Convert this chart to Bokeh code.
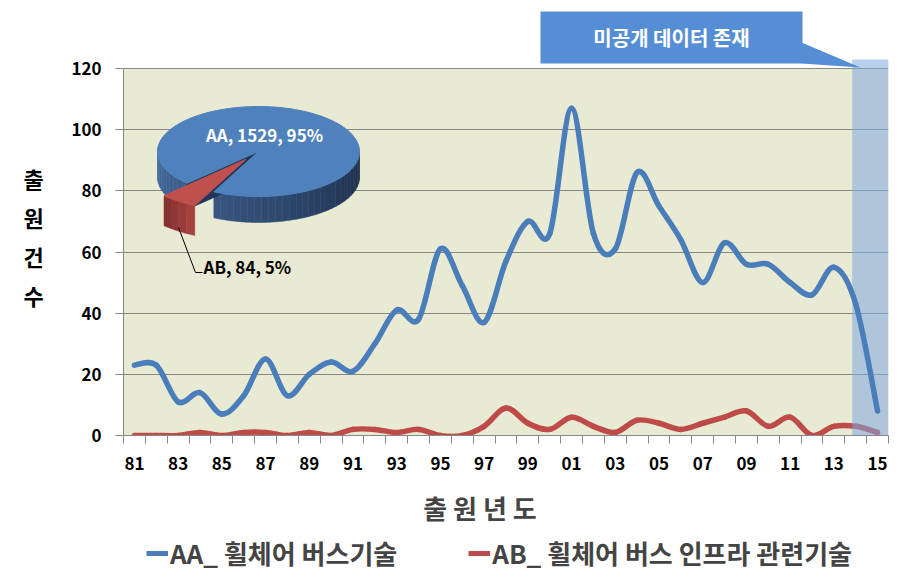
import math
from bokeh.plotting import figure
from bokeh.layouts import column, row
from bokeh.models import Range1d, FixedTicker, Legend, LegendItem
from bokeh.embed import file_html
from bokeh.resources import INLINE
from bokeh.core.properties import value

# ---------------- data ----------------
years = list(range(1981, 2016))
year_labels = [f"{y % 100:02d}" for y in years]
aa_counts = [23, 23, 11, 14, 7, 13, 25, 13, 20, 24,
             21, 30, 41, 38, 61, 49, 37, 57, 70, 66,
             107, 66, 61, 86, 75, 64, 50, 63, 56, 56,
             50, 46, 55, 43, 8]
ab_counts = [0, 0, 0, 1, 0, 1, 1, 0, 1, 0,
             2, 2, 1, 2, 0, 0, 3, 9, 4, 2,
             6, 3, 1, 5, 4, 2, 4, 6, 8, 3,
             6, 0, 3, 3, 1]
series_names = ["AA_ 휠체어 버스기술", "AB_ 휠체어 버스 인프라 관련기술"]
pie_names = ["AA", "AB"]
y_ticks = [0, 20, 40, 60, 80, 100, 120]
note_text = "미공개 데이터 존재"
x_title = "출 원 년 도"
y_title_chars = list("출원건수")

# ---------------- style / layout ----------------
FONT = "Noto Sans CJK KR"
BLUE = "#4a7ebb"
RED = "#be4b48"
GRID = "#878787"
OLIVE = "#e9ead3"
SHADE = "#80a8e0"
W, H = 919, 583
LEG_H = 53                  # legend strip height
MAIN_H = H - LEG_H
YT_W = 60                   # width of the y-title strip
FL, FR = 123, 888           # frame left/right px (page coords)
FT, FB = 5, 435             # frame top/bottom px (bottom = value 0)
X0, X1 = years[0] - 0.5, years[-1] + 0.5
SX = (FR - FL) / (X1 - X0)
Y_ZERO_PX, Y_TOP_PX = 435, 68
SY = (Y_ZERO_PX - Y_TOP_PX) / y_ticks[-1]


def X(px):
    return X0 + (px - FL) / SX


def Y(py):
    return (Y_ZERO_PX - py) / SY


def bare(fig):
    fig.outline_line_color = None
    fig.xgrid.visible = False
    fig.ygrid.visible = False
    fig.background_fill_color = "white"
    fig.border_fill_color = "white"
    fig.min_border = 0
    return fig


# ---------- y-title strip (frame is aligned with the main frame: page px FT..FB) ----------
py_ = bare(figure(width=YT_W, height=MAIN_H, output_backend="svg", toolbar_location=None,
                  x_range=Range1d(0, YT_W), y_range=Range1d(FB, FT),
                  x_axis_location=None, y_axis_location=None))
py_.text(x=[33] * len(y_title_chars), y=[177 + 39 * i for i in range(len(y_title_chars))],
         text=y_title_chars, text_color="black", text_font=value(FONT), text_font_style="bold",
         text_font_size="22px", text_align="center", text_baseline="middle")

# ---------- main plot ----------
p = figure(width=W - YT_W, height=MAIN_H, output_backend="svg", toolbar_location=None,
           x_range=Range1d(X0, X1), y_range=Range1d(0, Y(FT)),
           min_border_left=FL - YT_W, min_border_right=W - FR,
           min_border_top=FT, min_border_bottom=MAIN_H - FB)
p.outline_line_color = None
p.background_fill_color = "white"
p.border_fill_color = "white"
p.xgrid.visible = False
p.ygrid.grid_line_color = GRID
p.ygrid.grid_line_width = 1.2
p.ygrid.ticker = FixedTicker(ticks=y_ticks[1:])

bg = p.quad(left=[X0], right=[X1], bottom=[y_ticks[0]], top=[y_ticks[-1]],
            fill_color=OLIVE, line_color=None)
bg.level = "image"

ya = p.yaxis[0]
ya.ticker = FixedTicker(ticks=y_ticks)
ya.bounds = (y_ticks[0], y_ticks[-1])
ya.axis_line_color = GRID
ya.major_tick_line_color = GRID
ya.major_tick_out = 8
ya.major_tick_in = 0
ya.minor_tick_line_color = None
ya.major_label_text_font = FONT
ya.major_label_text_font_style = "bold"
ya.major_label_text_font_size = "17px"
ya.major_label_text_color = "black"
ya.major_label_standoff = 14

xa = p.xaxis[0]
xa.ticker = FixedTicker(ticks=years[::2], minor_ticks=[y - 0.5 for y in years] + [years[-1] + 0.5])
xa.major_label_overrides = {y: lab for y, lab in zip(years, year_labels)}
xa.axis_line_color = GRID
xa.major_tick_line_color = None
xa.major_tick_out = 8
xa.minor_tick_line_color = GRID
xa.minor_tick_out = 8
xa.minor_tick_in = 0
xa.major_label_text_font = FONT
xa.major_label_text_font_style = "bold"
xa.major_label_text_font_size = "17px"
xa.major_label_text_color = "black"
xa.major_label_standoff = 13
xa.axis_label = x_title + "\u3000\u3000"      # trailing ideographic spaces shift the centred title left
xa.axis_label_text_font = FONT
xa.axis_label_text_font_style = "bold"
xa.axis_label_text_font_size = "26px"
xa.axis_label_standoff = 16


def bezier_segments(xs, ys):
    """Excel-like smoothing: cubic Bezier through every data point."""
    n = len(xs)
    out = dict(x0=[], y0=[], x1=[], y1=[], cx0=[], cy0=[], cx1=[], cy1=[])
    for i in range(n - 1):
        a = max(i - 1, 0)
        b = min(i + 2, n - 1)
        out["x0"].append(xs[i]); out["y0"].append(ys[i])
        out["x1"].append(xs[i + 1]); out["y1"].append(ys[i + 1])
        out["cx0"].append(xs[i] + (xs[i + 1] - xs[a]) / 6)
        out["cy0"].append(ys[i] + (ys[i + 1] - ys[a]) / 6)
        out["cx1"].append(xs[i + 1] - (xs[b] - xs[i]) / 6)
        out["cy1"].append(ys[i + 1] - (ys[b] - ys[i]) / 6)
    return out


p.bezier(**bezier_segments(years, ab_counts), line_color=RED, line_width=5.5, line_cap="round")

SHADE_LEFT = X(851.7)
p.quad(left=[SHADE_LEFT], right=[X1], bottom=[0], top=[Y(59)],
       fill_color=SHADE, fill_alpha=0.55, line_color=None)

p.bezier(**bezier_segments(years, aa_counts), line_color=BLUE, line_width=5.5, line_cap="round")

# callout
p.quad(left=[X(540)], right=[X(802)], bottom=[Y(63)], top=[Y(11)],
       fill_color="#558ed5", line_color=None)
p.patch([X(801), X(860), X(801)], [Y(42), Y(67), Y(63)], fill_color="#558ed5", line_color=None)
p.text(x=[X(671)], y=[Y(37)], text=[note_text], text_color="white",
       text_font=value(FONT), text_font_style="bold", text_font_size="20px",
       text_align="center", text_baseline="middle")

# ---------- 3D pie ----------
totals = [sum(aa_counts), sum(ab_counts)]
grand = sum(totals)
CX, CY = X(258), Y(151)
RX, RY = 101 / SX, 45 / SY
DEPTH = 26 / SY
START = 225.0
ab_span = 360.0 * totals[1] / grand
ab_a0, ab_a1 = START, START + ab_span
aa_a0, aa_a1 = ab_a1, START + 360.0
EXP = 0.21
RED_R = 1.15          # exploded slice appears larger (perspective)
mid = math.radians((ab_a0 + ab_a1) / 2)
EXU, EXV = EXP * math.cos(mid), EXP * math.sin(mid)


def pt(ang, r=1.0, dz=0.0, du=0.0, dv=0.0):
    a = math.radians(ang)
    return (CX + RX * (du + r * math.cos(a)), CY + RY * (dv + r * math.sin(a)) - dz)


def arc(a0, a1, dz=0.0, du=0.0, dv=0.0, step=2.0, r=1.0):
    n = max(2, int(abs(a1 - a0) / step) + 1)
    return [pt(a0 + (a1 - a0) * k / (n - 1), r, dz, du, dv) for k in range(n)]


def mix(c1, c2, t):
    return "#%02x%02x%02x" % tuple(int(round(c1[i] + (c2[i] - c1[i]) * t)) for i in range(3))


def side_band(a0, a1, du, dv, c_left, c_right, xs, ys, cols, r=1.0, depth=DEPTH, by_angle=True):
    n = max(1, int((a1 - a0) / 4))
    for k in range(n):
        b0 = a0 + (a1 - a0) * k / n
        b1 = a0 + (a1 - a0) * (k + 1) / n
        poly = arc(b0, b1, 0, du, dv, 1.0, r) + arc(b1, b0, depth, du, dv, 1.0, r)
        xs.append([q[0] for q in poly]); ys.append([q[1] for q in poly])
        t = ((b0 + b1) / 2 - 180) / 180 if by_angle else (k + 0.5) / n
        cols.append(mix(c_left, c_right, min(max(t, 0), 1)))


bx, by, bc = [], [], []
side_band(180, ab_a0, 0, 0, (70, 108, 160), (28, 45, 72), bx, by, bc)
side_band(aa_a0, 360, 0, 0, (70, 108, 160), (28, 45, 72), bx, by, bc)
p.patches(bx, by, fill_color=bc, line_color=bc, line_width=0.5)
w = [pt(0, 0), pt(ab_a0), pt(ab_a0, 1, DEPTH), pt(0, 0, DEPTH)]
p.patch([q[0] for q in w], [q[1] for q in w], fill_color="#22375a", line_color="#22375a")
top = [pt(0, 0)] + arc(aa_a0, aa_a1)
p.patch([q[0] for q in top], [q[1] for q in top], fill_color="#4f81bd", line_color="#4f81bd")

# red exploded slice: outer rim face + top face
rx_, ry_, rc = [], [], []
side_band(ab_a0, ab_a1, EXU, EXV, (128, 48, 46), (168, 68, 64), rx_, ry_, rc,
          r=RED_R, depth=DEPTH * 1.15, by_angle=False)
p.patches(rx_, ry_, fill_color=rc, line_color=rc, line_width=0.5)
top = [pt(0, 0, 0, EXU, EXV)] + arc(ab_a0, ab_a1, 0, EXU, EXV, 2.0, RED_R)
p.patch([q[0] for q in top], [q[1] for q in top], fill_color="#c0504d", line_color="#c0504d")

pct = [round(100 * t / grand) for t in totals]
p.text(x=[X(264)], y=[Y(134)], text=[f"{pie_names[0]}, {totals[0]}, {pct[0]}%"], text_color="white",
       text_font=value(FONT), text_font_style="bold", text_font_size="17px",
       text_align="center", text_baseline="middle")
p.line([X(178), X(195), X(202)], [Y(227), Y(272), Y(272)], line_color="black", line_width=1)
p.text(x=[X(203)], y=[Y(266)], text=[f"{pie_names[1]}, {totals[1]}, {pct[1]}%"], text_color="black",
       text_font=value(FONT), text_font_style="bold", text_font_size="17px",
       text_align="left", text_baseline="middle")

# ---------- legend strip ----------
pl = bare(figure(width=W, height=LEG_H, output_backend="svg", toolbar_location=None,
                 x_range=Range1d(0, 1), y_range=Range1d(0, 1),
                 x_axis_location=None, y_axis_location=None))
la = pl.line(x=[-5, -4], y=[-5, -4], line_color=BLUE, line_width=5)
lb = pl.line(x=[-5, -4], y=[-5, -4], line_color=RED, line_width=5)
legend = Legend(items=[LegendItem(label=series_names[0], renderers=[la]),
                       LegendItem(label=series_names[1], renderers=[lb])],
                orientation="horizontal", location=(146, 12),
                label_text_font=FONT, label_text_font_style="bold", label_text_font_size="26px",
                glyph_width=22, glyph_height=22, label_standoff=2, spacing=71,
                padding=0, margin=0, border_line_color=None, background_fill_alpha=0)
pl.add_layout(legend, "center")

layout = column(row(py_, p), pl)
open("out.html", "w").write(file_html(layout, INLINE))
